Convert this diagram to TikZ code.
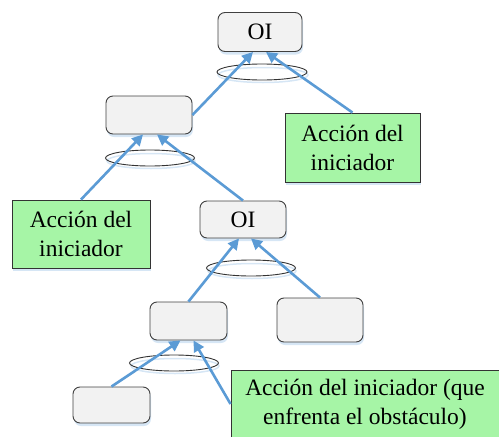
\documentclass[tikz,border=0pt]{standalone}
\usepackage{fontspec}
\setmainfont{Liberation Serif}
\usetikzlibrary{arrows.meta,shadows}
\definecolor{arrowblue}{HTML}{5B9BD5}
\definecolor{boxgray}{HTML}{F2F2F2}
\definecolor{boxgreen}{HTML}{A6F5A6}
\definecolor{shadowblue}{HTML}{D6E6F5}
\begin{document}
\begin{tikzpicture}[x=1pt,y=-1pt,
  graybox/.style={draw=black!75,fill=boxgray,rounded corners=7pt,line width=0.9pt,
    inner sep=0pt,font=\fontsize{23.5}{28}\selectfont,
    drop shadow={shadow xshift=1pt,shadow yshift=-3pt,fill=shadowblue,opacity=1}},
  greenbox/.style={draw=black!80,fill=boxgreen,line width=0.9pt,inner sep=0pt,
    align=center,font=\fontsize{23.5}{29}\selectfont,
    drop shadow={shadow xshift=1pt,shadow yshift=-3pt,fill=shadowblue,opacity=1}},
  ring/.style={draw=black!80,line width=0.9pt},
  ringshadow/.style={draw=shadowblue,line width=1.5pt},
  arr/.style={draw=arrowblue,line width=2.6pt,-{Triangle[length=11pt,width=11pt]}}]
\useasboundingbox (0,0) rectangle (499,437);
\clip (0,0) rectangle (499,437);
% nodes
\node[graybox,minimum width=84pt,minimum height=39pt] (oi1) at (260,32) {OI};
\node[graybox,minimum width=86pt,minimum height=38pt] (b2) at (149,115) {};
\node[greenbox,minimum width=135pt,minimum height=69pt] (g1) at (352.5,147.5) {Acción del\\iniciador};
\node[greenbox,minimum width=138pt,minimum height=68pt] (g2) at (81,234) {Acción del\\iniciador};
\node[graybox,minimum width=86pt,minimum height=37pt] (oi2) at (243,219.5) {OI};
\node[graybox,minimum width=77pt,minimum height=38pt] (b3) at (188.5,321) {};
\node[graybox,minimum width=86pt,minimum height=44pt] (b4) at (320,320) {};
\node[graybox,minimum width=77pt,minimum height=36pt] (b5) at (111.5,405) {};
\node[greenbox,minimum width=268pt,minimum height=68pt] (g3) at (365,404) {Acción del iniciador (que\\enfrenta el obstáculo)};
% ellipses
\draw[ringshadow] (263,75) ellipse (45pt and 7.5pt);
\draw[ring] (262,72) ellipse (45pt and 8pt);
\draw[ringshadow] (151,161) ellipse (44pt and 7.5pt);
\draw[ring] (150,158) ellipse (44.5pt and 8pt);
\draw[ringshadow] (252,271) ellipse (44pt and 7.5pt);
\draw[ring] (251,268) ellipse (44.5pt and 8pt);
\draw[ringshadow] (175,366) ellipse (44pt and 7.5pt);
\draw[ring] (174,363) ellipse (44.5pt and 8pt);
% connectors
\draw[arr] (b2.east) -- ([xshift=-7pt]oi1.south);
\draw[arr] (g1.north) -- ([xshift=6pt]oi1.south);
\draw[arr] (g2.north) -- ([xshift=-6pt]b2.south);
\draw[arr] (oi2.north) -- ([xshift=8pt]b2.south);
\draw[arr] (b3.north) -- ([xshift=-4pt]oi2.south);
\draw[arr] (b4.north) -- ([xshift=8pt]oi2.south);
\draw[arr] (b5.north) -- ([xshift=-8pt]b3.south);
\draw[arr] (g3.west) -- ([xshift=5pt]b3.south);
\end{tikzpicture}
\end{document}
